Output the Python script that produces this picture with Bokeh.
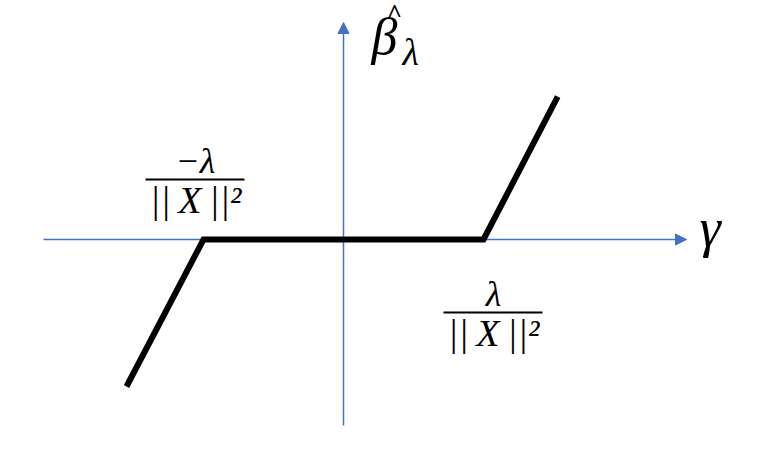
from bokeh.plotting import figure
from bokeh.models import Range1d, Arrow, NormalHead
from bokeh.embed import file_html
from bokeh.resources import INLINE
from bokeh.core.properties import value

# Soft-thresholding function: beta_hat(gamma)
gamma = [-1.55, -1.0, 1.0, 1.53]
beta_hat = [-1.05, 0.0, 0.0, 1.02]

W, H = 744, 445
SCALE = 140.0
OX, OY = 343.0, 239.0  # origin in page pixels

def dx(px):
    return (px - OX) / SCALE

def dy(py):
    return (OY - py) / SCALE

def base(py, size):
    # place text so that its alphabetic baseline lands at page row py
    return dy(py - 0.32 * size)

p = figure(width=W, height=H, output_backend="svg", toolbar_location=None,
           x_range=Range1d(dx(0), dx(W)), y_range=Range1d(dy(H), dy(0)),
           min_border=0)
p.axis.visible = False
p.grid.visible = False
p.outline_line_color = None
p.background_fill_color = "white"

AX = "#4472C4"
p.add_layout(Arrow(x_start=dx(43), y_start=0, x_end=dx(686), y_end=0,
                   line_color=AX, line_width=1.5, level="underlay",
                   end=NormalHead(size=11, fill_color=AX, line_color=AX)))
p.add_layout(Arrow(x_start=0, y_start=dy(425), x_end=0, y_end=dy(22),
                   line_color=AX, line_width=1.5, level="underlay",
                   end=NormalHead(size=11, fill_color=AX, line_color=AX)))

p.line(gamma, beta_hat, line_color="black", line_width=6, line_join="miter")

serif = value("Liberation Serif")

def txt(px, py, s, size, style="italic", align="left"):
    p.text(x=[dx(px)], y=[base(py, size)], text=[s], text_font=serif,
           text_font_style=style,
           text_font_size=f"{size}px", text_baseline="alphabetic",
           text_align=align, text_color="black")

txt(699, 245, "γ", 54)
txt(371, 53, "β", 52)
txt(394, 21.5, "^", 26, style="bold", align="center")
txt(402, 64, "λ", 38)

for num, cx, nb in [("−λ", 195, 172), ("λ", 493, 305)]:
    txt(cx, nb, num, 36, align="center")
    bar_y = dy(nb + 7)
    p.segment(x0=[dx(cx - 50)], y0=[bar_y], x1=[dx(cx + 49)], y1=[bar_y],
              line_color="black", line_width=2)
    txt(cx, nb + 40, "||\u2009X\u2009||²", 38, align="center")

open("out.html", "w").write(file_html(p, INLINE))
